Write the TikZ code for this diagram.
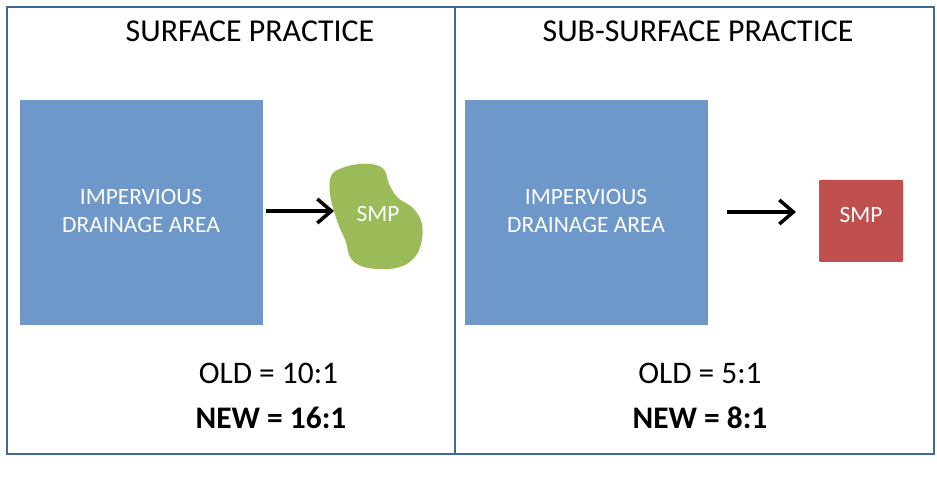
\documentclass[tikz,border=0pt]{standalone}
\usepackage{fontspec}
\setmainfont{Carlito}
\usetikzlibrary{arrows.meta}
\definecolor{frameblue}{RGB}{66,104,155}
\definecolor{areablue}{RGB}{110,151,202}
\definecolor{smpgreen}{RGB}{155,187,89}
\definecolor{smpred}{RGB}{192,80,77}
\tikzset{
  panel/.style={draw=frameblue, line width=2.4bp, inner sep=0pt},
  area/.style={fill=areablue, inner sep=0pt, minimum width=243bp, minimum height=225bp},
  title/.style={anchor=base, font=\fontsize{32}{38}\selectfont, inner sep=0pt},
  inbox/.style={anchor=base, text=white, font=\fontsize{23.5}{28}\selectfont, inner sep=0pt},
  ratio/.style={anchor=base, font=\fontsize{31.5}{38}\selectfont, inner sep=0pt},
  ratiobold/.style={ratio, font=\fontsize{31.5}{38}\selectfont\bfseries},
  flow/.style={line width=3.5bp, -{Straight Barb[length=14bp, width=24bp, line width=3.5bp]}},
}
\begin{document}
\begin{tikzpicture}[x=1bp, y=-1bp]
\useasboundingbox (0,0) rectangle (937,498);

% panels
\node[panel, minimum width=448bp, minimum height=447bp] (left) at (231,230.5) {};
\node[panel, minimum width=479bp, minimum height=447bp] (right) at (694.5,230.5) {};

% titles
\node[title] (ltitle) at (250,42) {SURFACE PRACTICE};
\node[title] (rtitle) at (698,42) {SUB-SURFACE PRACTICE};

% drainage areas
\node[area] (larea) at (141.5,212.5) {};
\node[area] (rarea) at (586.5,212.5) {};
\node[inbox] (limp) at (141,205) {IMPERVIOUS};
\node[inbox] (ldrain) at (141,233) {DRAINAGE AREA};
\node[inbox] (rimp) at (586,205) {IMPERVIOUS};
\node[inbox] (rdrain) at (586,233) {DRAINAGE AREA};

% surface SMP: irregular blob
\fill[smpgreen] plot[smooth cycle, tension=0.65] coordinates {
  (331,176) (342,168) (360,164) (376,165) (385,171) (389,184)
  (398,198) (413,208) (422,224) (421,244) (414,258) (400,267)
  (380,269) (361,266) (350,257) (346,242) (339,226) (334,211) (330,194)};
\coordinate (blobedge) at (334,211);
\node[inbox] (lsmp) at (378,222) {SMP};

% sub-surface SMP: box
\node[fill=smpred, rounded corners=1bp, minimum width=84bp, minimum height=82bp, inner sep=0pt] (rsmp) at (861,221) {};
\node[inbox] (rsmpt) at (861,223) {SMP};

% flow arrows
\coordinate (lstart) at (266,211);
\draw[flow] (lstart) -- (blobedge);
\coordinate (rstart) at (727,212);
\coordinate (rend) at (796,212);
\draw[flow] (rstart) -- (rend);

% loading ratios
\node[ratio] (lold) at (268.5,383) {OLD = 10:1};
\node[ratiobold] (lnew) at (271,428) {NEW = 16:1};
\node[ratio] (rold) at (700,383) {OLD = 5:1};
\node[ratiobold] (rnew) at (700,428) {NEW = 8:1};
\end{tikzpicture}
\end{document}
